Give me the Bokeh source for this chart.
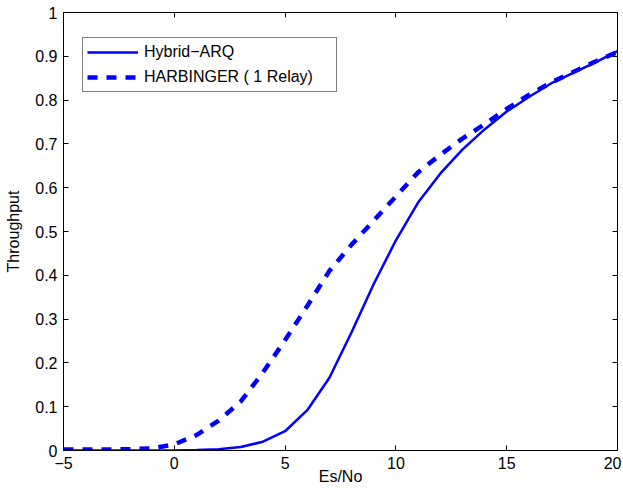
from bokeh.plotting import figure
from bokeh.models import LinearAxis, FixedTicker, Range1d, Legend, LegendItem, CustomLabelingPolicy
from bokeh.embed import file_html
from bokeh.resources import INLINE

# ---- data ----
es_no = list(range(-5, 21))
hybrid_arq = [0, 0, 0, 0, 0, 0,
              0.001, 0.003, 0.008, 0.020, 0.044, 0.092, 0.166, 0.270, 0.380, 0.480,
              0.566, 0.632, 0.687, 0.733, 0.774, 0.807, 0.838, 0.862, 0.886, 0.912]
harbinger = [0.002, 0.002, 0.002, 0.003, 0.005, 0.014,
             0.035, 0.068, 0.112, 0.178, 0.252, 0.330, 0.410, 0.470, 0.525, 0.580,
             0.635, 0.675, 0.712, 0.745, 0.780, 0.812, 0.840, 0.864, 0.888, 0.910]
series_names = ["Hybrid\u2212ARQ", "HARBINGER ( 1 Relay)"]
x_ticks = [-5, 0, 5, 10, 15, 20]
x_tick_labels = ["\u22125", "0", "5", "10", "15", "20"]
y_ticks = [0, 0.1, 0.2, 0.3, 0.4, 0.5, 0.6, 0.7, 0.8, 0.9, 1.0]
y_tick_labels = ["0", "0.1", "0.2", "0.3", "0.4", "0.5", "0.6", "0.7", "0.8", "0.9", "1"]

FONT = "Liberation Sans"
FS = "16px"
BLUE = "#0000FF"

p = figure(width=621, height=489, output_backend="svg", toolbar_location=None,
           x_range=Range1d(-5, 20), y_range=Range1d(0, 1),
           min_border_left=63, min_border_right=4, min_border_top=12, min_border_bottom=39,
           x_axis_label="Es/No", y_axis_label="Throughput")
p.background_fill_color = "white"
p.border_fill_color = "white"
p.grid.visible = False
p.outline_line_color = "black"
p.outline_line_width = 1

for ax in p.xaxis:
    ax.ticker = FixedTicker(ticks=x_ticks)
    ax.major_label_overrides = {t: l for t, l in zip(x_ticks, x_tick_labels)}
for ax in p.yaxis:
    ax.ticker = FixedTicker(ticks=y_ticks)
    ax.major_label_overrides = {t: l for t, l in zip(y_ticks, y_tick_labels)}

for ax in list(p.xaxis) + list(p.yaxis):
    ax.major_tick_in = 5
    ax.major_tick_out = 0
    ax.minor_tick_in = 0
    ax.minor_tick_out = 0
    ax.axis_line_color = "black"
    ax.major_tick_line_color = "black"
    ax.major_label_text_font = FONT
    ax.major_label_text_font_size = FS
    ax.major_label_text_color = "black"
    ax.axis_label_text_font = FONT
    ax.axis_label_text_font_size = FS
    ax.axis_label_text_font_style = "normal"
    ax.axis_label_text_color = "black"

p.xaxis.major_label_standoff = 6
p.xaxis.axis_label_standoff = -4
p.yaxis.major_label_standoff = 6
p.yaxis.axis_label_standoff = 10

# box ticks on top and right, labels filtered out
no_labels = CustomLabelingPolicy(code="for (const i of indices) { indices.unset(i) }\nreturn indices")
no_labels2 = CustomLabelingPolicy(code="for (const i of indices) { indices.unset(i) }\nreturn indices")
top = LinearAxis(ticker=FixedTicker(ticks=x_ticks), major_tick_in=5, major_tick_out=0,
                 minor_tick_in=0, minor_tick_out=0, major_label_text_font_size="1px",
                 major_label_standoff=0, axis_line_color="black", major_label_policy=no_labels)
right = LinearAxis(ticker=FixedTicker(ticks=y_ticks), major_tick_in=5, major_tick_out=0,
                   minor_tick_in=0, minor_tick_out=0, major_label_text_font_size="1px",
                   major_label_standoff=0, axis_line_color="black", major_label_policy=no_labels2)
p.add_layout(top, "above")
p.add_layout(right, "right")

r1 = p.line(es_no, hybrid_arq, line_color=BLUE, line_width=2.5)
r2 = p.line(es_no, harbinger, line_color=BLUE, line_width=4.5, line_dash="10 9")

legend = Legend(items=[LegendItem(label=series_names[0], renderers=[r1]),
                       LegendItem(label=series_names[1], renderers=[r2])],
                location=(19, 358), orientation="vertical")
legend.label_text_font = FONT
legend.label_text_font_size = FS
legend.label_text_color = "black"
legend.glyph_width = 51
legend.glyph_height = 20
legend.label_height = 20
legend.label_width = 188
legend.label_standoff = 6
legend.spacing = 5
legend.padding = 4
legend.margin = 0
legend.border_line_color = "black"
legend.border_line_width = 1
legend.background_fill_color = "white"
legend.background_fill_alpha = 1
p.add_layout(legend, "center")

open("out.html", "w").write(file_html(p, INLINE))
